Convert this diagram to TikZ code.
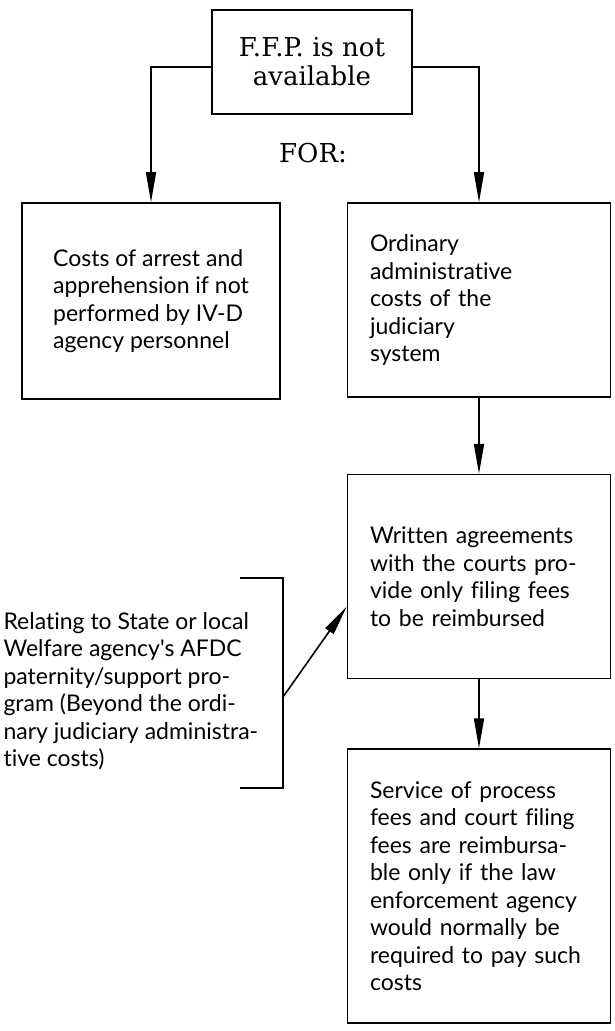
\documentclass[tikz,border=0pt]{standalone}
\usepackage{fontspec}
\setmainfont{DejaVu Serif}
\newfontfamily\boxfont[Ligatures=NoCommon]{Lato}
\usetikzlibrary{positioning,arrows.meta}
\begin{document}
\begin{tikzpicture}[
    x=1pt, y=1pt,
    box/.style={draw, rectangle, line width=1.6pt, align=left,
                font=\boxfont\fontsize{23}{27.5}\selectfont},
    colbox/.style={box, text width=218pt, inner xsep=22.5pt},
    arr/.style={-{Triangle[length=30pt, width=10pt]}, line width=1.6pt}
]
\useasboundingbox (0,0) rectangle (615,-1031);
\node (ffp) [draw, rectangle, line width=1.6pt, align=center,
             font=\fontsize{26}{29}\selectfont,
             minimum width=200pt, minimum height=104pt] at (312,-62) {F.F.P. is not\\available};
\node (for) [font=\fontsize{26}{28}\selectfont] at (313,-153) {FOR:};
\node (arrest) [box, minimum width=258pt, minimum height=196pt] at (151,-301) {Costs of arrest and\\apprehension if not\\performed by IV-D\\agency personnel};
\node (ordinary) [colbox, minimum height=194pt] at (479,-300) {Ordinary\\administrative\\costs of the\\judiciary\\system};
\node (written) [colbox, minimum height=204pt, below=76pt of ordinary] {Written agreements\\with the courts pro-\\vide only filing fees\\to be reimbursed};
\node (service) [colbox, minimum height=274pt, below=69pt of written] {Service of process\\fees and court filing\\fees are reimbursa-\\ble only if the law\\enforcement agency\\would normally be\\required to pay such\\costs};
\node (welfare) [align=left, anchor=west, font=\boxfont\fontsize{23}{27.5}\selectfont] at (0,-691) {Relating to State or local\\Welfare agency's AFDC\\paternity/support pro-\\gram (Beyond the ordi-\\nary judiciary administra-\\tive costs)};

\coordinate (brkt) at (240,-578);
\coordinate (brkb) at (240,-788);
\coordinate (brkm) at (283,-697);
\draw [line width=1.6pt] (brkt) -- ++(43,0) |- (brkb);

\draw [arr] ([yshift=-5pt]ffp.west) -| (arrest.north);
\draw [arr] ([yshift=-5pt]ffp.east) -| (ordinary.north);
\draw [arr] (ordinary.south) -- (written.north);
\draw [arr] (written.south) -- (service.north);
\draw [arr] (brkm) -- ([yshift=-30pt]written.west);
\end{tikzpicture}
\end{document}
